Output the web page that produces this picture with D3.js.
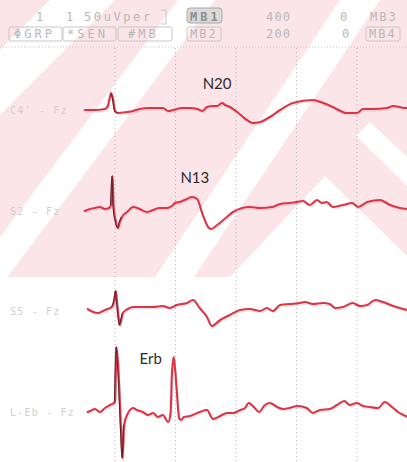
<!DOCTYPE html>
<html>
<head>
<meta charset="utf-8">
<script src="https://cdn.jsdelivr.net/npm/d3@7"></script>
<style>
  html, body { margin: 0; padding: 0; background: #fff; }
  svg { display: block; }
</style>
</head>
<body>
<svg id="chart" width="407" height="462"></svg>
<script>
// ---- recording data (time in ms after stimulus, amplitude in µV) ----
const channels = ["C4' - Fz", "S2 - Fz", "S5 - Fz", "L-Eb - Fz"];
const gridTimes = [0, 10, 20, 30, 40];

const c4Time = [-5, -3.3, -1.65, -1.2, -0.8, -0.65, -0.4, -0.15, 0, 0.5, 2.0, 3.0, 4.1, 5.8, 6.9, 7.9, 8.8, 9.6, 11.1, 12.4, 13.6, 14.5, 15.2, 16.2, 16.9, 17.7, 18.2, 19.0, 20.2, 21.8, 22.8, 24.0, 25.6, 27.3, 29.4, 32.7, 34.4, 36.0, 38.3, 40.0, 41.0, 42.6, 45.0, 46.0, 47.1, 47.9, 48.4];
const c4Amp  = [0, 0, 0.1, 0.4, 1.4, 1.7, 1.3, 0.4, -0.1, -0.3, -0.2, -0.1, 0.1, 0.2, 0.2, 0.2, -0.1, 0, 0.2, 0.2, 0.1, -0.1, 0.3, 0.4, 0.4, 0.7, 0.5, 0.3, -0.2, -1.0, -1.3, -1.2, -0.7, 0, 0.7, 1.0, 0.7, 0.3, -0.3, -0.3, 0.1, 0.1, 0.2, 0.4, 0.3, 0.2, 0.2];

const s2Time = [-5, -4.1, -3.3, -2.5, -1.65, -1.0, -0.65, -0.4, -0.25, 0.15, 0.5, 0.8, 1.15, 2.0, 3.0, 4.1, 5.3, 6.3, 7.4, 8.6, 9.4, 9.9, 10.7, 11.9, 12.7, 13.6, 14.4, 15.4, 15.9, 16.9, 18.5, 19.5, 22.3, 24.0, 26.0, 27.3, 28.9, 30.1, 31.1, 32.2, 33.4, 34.2, 35.0, 36.0, 37.7, 39.2, 40.2, 41.7, 43.8, 45.5, 47.1, 48.4];
const s2Amp  = [0, 0.2, 0.3, 0.4, 0.2, 0.3, 0.6, 3.5, 0.6, -1.1, -1.7, -1.1, -0.6, -0.1, 0.4, 0.2, -0.1, 0.1, 0.3, 0.3, 0.5, 0.8, 0.9, 1.2, 1.4, 1.2, -0.2, -1.6, -1.8, -1.4, -0.6, -0.1, 0.4, 0.3, 0.4, 0.7, 0.8, 0.9, 1.0, 0.6, 1.1, 0.8, 0.9, 0.4, 0.6, 0.8, 0.4, 0.9, 1.1, 0.6, 0.3, 0.2];

const s5Time = [-4.5, -3.6, -2.8, -2.0, -1.2, -0.5, -0.1, 0.15, 0.3, 0.6, 0.8, 1.1, 1.3, 2.1, 3.0, 4.6, 6.3, 7.9, 9.1, 10.2, 11.9, 12.9, 14.0, 15.2, 16.0, 17.4, 19.0, 20.7, 22.3, 24.0, 25.1, 26.1, 27.3, 28.9, 30.6, 31.4, 32.7, 34.4, 35.5, 36.4, 37.7, 39.3, 40.5, 41.7, 43.0, 44.3, 46.0, 47.6, 48.4];
const s5Amp  = [0.2, -0.1, -0.2, 0, 0.2, 0.4, 1.1, 2.0, 1.1, -0.7, -1.4, -0.7, -0.2, 0.2, 0.4, 0.4, 0.4, 0.5, 0.3, 0.6, 0.8, 1.1, 0.3, -0.6, -1.5, -0.9, -0.4, 0.1, 0.2, 0, 0.3, 0, 0.6, 0.7, 0.8, 0.9, 0.7, 0.8, 0.7, 0.3, 0.4, 0.8, 0.5, 0.6, 1.1, 0.9, 0.5, 0.2, 0.1];

const erbTime = [-4.5, -4.1, -3.3, -2.5, -1.65, -0.8, 0, 0.25, 0.6, 1.0, 1.25, 1.5, 2.0, 3.0, 3.6, 4.6, 5.5, 6.3, 7.1, 7.9, 8.8, 9.2, 9.4, 9.7, 9.9, 10.2, 10.6, 10.9, 11.4, 12.4, 14.0, 15.2, 16.2, 17.4, 18.5, 19.5, 20.7, 21.5, 22.1, 23.1, 23.8, 24.8, 25.6, 26.8, 27.8, 28.9, 30.2, 31.7, 32.7, 33.9, 35.5, 36.7, 37.9, 38.8, 40.0, 41.0, 42.1, 43.5, 44.6, 45.8, 46.8, 48.4];
const erbAmp  = [0, 0.1, 0.3, 0, 0.4, 0.7, 1.0, 6.5, 3.7, -1.8, -4.6, -1.3, -0.3, 0.4, 0.2, 0, -0.3, -0.1, -0.5, -0.3, -1.0, 0, 3.7, 5.5, 4.5, 2.2, -0.6, -0.8, -0.5, -0.4, 0, 0.2, -0.7, -0.4, -0.1, -0.1, 0.2, 0.4, 0.9, 0.4, 0, 0.7, 0.9, 0.5, 0.3, 0.4, 0.6, 0.4, -0.1, 0.2, 0.3, 0.7, 1.1, 0.7, 0.9, 0.6, 0.5, 0.4, 1.0, 0.5, 0, -0.5];

const traceTimes = [c4Time, s2Time, s5Time, erbTime];
const traceAmps  = [c4Amp, s2Amp, s5Amp, erbAmp];

// labelled components
const peakNames   = ["N20", "N13", "Erb"];
const peakChannel = [0, 1, 3];
const peakTime    = [17.7, 12.7, 9.7];
const peakAmp     = [0.7, 1.4, 5.5];

// instrument header fields
const headerRow1 = ["1", "1", "50uVper", "MB1", "400", "0", "MB3"];
const headerRow2 = ["ΦGRP", "*SEN", "#MB", "MB2", "200", "0", "MB4"];

// ---- layout ----
const W = 407, H = 462;
const svg = d3.select("#chart");
const x = d3.scaleLinear().domain([-5, 48.5]).range([84.75, 408.4]);
const baselines = [110, 211, 311, 412];
const yScales = baselines.map(b => d3.scaleLinear().domain([-5, 5]).range([b + 50, b - 50]));

// paper background with faint diagonal watermark bands
svg.append("rect").attr("width", W).attr("height", H).attr("fill", "#ffffff");
const bg = svg.append("g");
bg.append("rect").attr("x", 0).attr("y", 0).attr("width", W).attr("height", 277).attr("fill", "#fce5e8");
const whiteBands = [
  [[50, 0], [115, 0], [0, 115], [0, 50]],
  [[178, 0], [215, 0], [0, 287], [0, 237]],
  [[340, 0], [380, 0], [194, 277], [155, 277]],
  [[325, 176], [407, 256], [407, 277], [230, 277]],
  [[370, 122], [407, 157], [407, 186], [356, 136]]
];
bg.selectAll("polygon.band").data(whiteBands).join("polygon")
  .attr("class", "band")
  .attr("points", d => d.map(p => p.join(",")).join(" "))
  .attr("fill", "#ffffff");

// header
const hdr = svg.append("g")
  .attr("font-family", "DejaVu Sans Mono, monospace")
  .attr("font-size", 12)
  .attr("fill", "#b8b8b8");
// field boxes: [x, y, width]
const boxes = [[9, 27, 53], [63, 27, 53], [118, 27, 54], [187, 27, 34], [366, 27, 34]];
hdr.selectAll("rect.box").data(boxes).join("rect")
  .attr("class", "box")
  .attr("x", d => d[0]).attr("y", d => d[1]).attr("width", d => d[2]).attr("height", 14)
  .attr("rx", 2).attr("fill", "none").attr("stroke", "#c6c6c6").attr("stroke-width", 1);
// highlighted (selected) field
hdr.append("rect").attr("x", 187).attr("y", 8).attr("width", 35).attr("height", 15)
  .attr("rx", 3).attr("fill", "#dadada").attr("stroke", "#a8a8a8");
hdr.append("path").attr("d", "M161,10 H166 V24 H161").attr("fill", "none").attr("stroke", "#c4c4c4");

const row1X = [36, 66, 84, 190, 266, 340, 370];
const row2X = [14, 67, 128, 190, 266, 342, 369];
const row1Sp = [0, 0, 2.6, 3, 1.2, 0, 2];
const row2Sp = [3, 3, 3, 2, 1.2, 0, 2];
hdr.selectAll("text.r1").data(headerRow1).join("text")
  .attr("class", "r1").attr("x", (d, i) => row1X[i]).attr("y", 21)
  .attr("letter-spacing", (d, i) => row1Sp[i])
  .attr("fill", (d, i) => i === 3 ? "#8e8e8e" : "#b8b8b8")
  .attr("font-weight", (d, i) => i === 3 ? "bold" : "normal")
  .text(d => d);
hdr.selectAll("text.r2").data(headerRow2).join("text")
  .attr("class", "r2").attr("x", (d, i) => row2X[i]).attr("y", 38)
  .attr("letter-spacing", (d, i) => row2Sp[i])
  .text(d => d);

// separator
svg.append("line").attr("x1", 0).attr("x2", W).attr("y1", 47).attr("y2", 47)
  .attr("stroke", "#c8c8c8").attr("stroke-dasharray", "1,2");

// time grid
svg.append("g").selectAll("line").data(gridTimes).join("line")
  .attr("x1", d => x(d)).attr("x2", d => x(d))
  .attr("y1", 48).attr("y2", H)
  .attr("stroke", "#b5b5b5").attr("stroke-width", 1).attr("stroke-dasharray", "1,3");

// channel labels
svg.append("g").selectAll("text").data(channels).join("text")
  .attr("x", 10).attr("y", (d, i) => baselines[i] + 4)
  .attr("font-family", "DejaVu Sans Mono, monospace").attr("font-size", 10)
  .attr("letter-spacing", 1.2)
  .attr("fill", "#cfcfcf").text(d => d);

// traces
const line = (ys) => d3.line().x(d => x(d[0])).y(d => ys(d[1])).curve(d3.curveMonotoneX);
traceTimes.forEach((ts, i) => {
  const pts = ts.map((t, j) => [t, traceAmps[i][j]]);
  // faint print underneath
  svg.append("path").datum(pts)
    .attr("d", line(yScales[i]))
    .attr("transform", "translate(1,2)")
    .attr("fill", "none").attr("stroke", "#777").attr("stroke-width", 0.8).attr("opacity", 0.3);
  svg.append("path").datum(pts)
    .attr("d", line(yScales[i]))
    .attr("fill", "none").attr("stroke", "#dc3445").attr("stroke-width", 2.1)
    .attr("stroke-linejoin", "round").attr("stroke-linecap", "round");
  // dark ink at the stimulus artefact
  const spike = pts.filter(p => p[0] > -0.7 && p[0] < 1.6);
  svg.append("path").datum(spike)
    .attr("d", line(yScales[i]))
    .attr("transform", "translate(-0.6,0)")
    .attr("fill", "none").attr("stroke", "#3a1418").attr("stroke-width", 1).attr("opacity", 0.75);
});

// component labels
const labelOffset = [[-5, -14], [3, -14], [-23, 7]];
svg.append("g").selectAll("text").data(peakNames).join("text")
  .attr("x", (d, i) => x(peakTime[i]) + labelOffset[i][0])
  .attr("y", (d, i) => yScales[peakChannel[i]](peakAmp[i]) + labelOffset[i][1])
  .attr("text-anchor", "middle")
  .attr("font-family", "Lato, 'Open Sans', sans-serif").attr("font-size", 15)
  .attr("fill", "#2e2a2a").text(d => d);
</script>
</body>
</html>
